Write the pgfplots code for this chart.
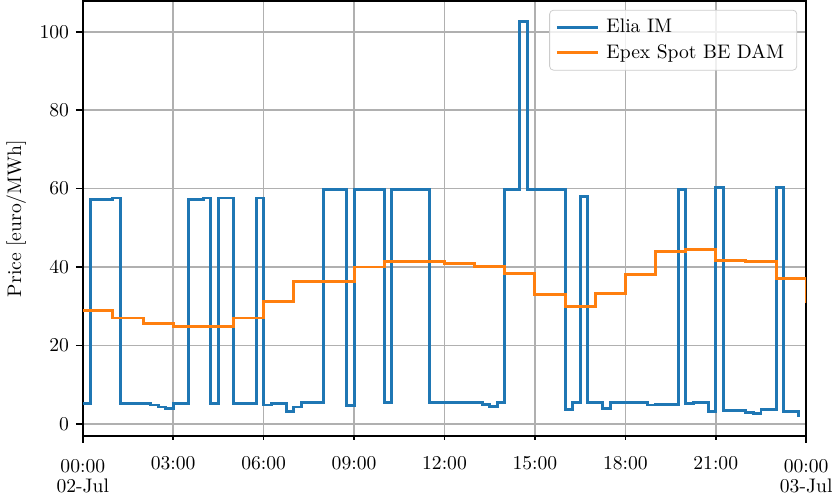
\documentclass[border=0pt]{standalone}
\usepackage{pgfplots}
\pgfplotsset{compat=1.18}

\definecolor{tabblue}{HTML}{1F77B4}
\definecolor{taborange}{HTML}{FF7F0E}
\definecolor{gridgray}{HTML}{B0B0B0}
\definecolor{legendedge}{HTML}{CCCCCC}

\begin{document}
\begin{tikzpicture}
\begin{axis}[
  set layers,
  scale only axis,
  width=369pt, height=222pt,
  xmin=0, xmax=24,
  ymin=-3.1, ymax=107.9,
  xtick={0,24},
  xticklabels={{00:00\\02-Jul},{00:00\\03-Jul}},
  x tick label style={align=center, font=\fontsize{10}{10.3}\selectfont,
    yshift=-5pt},
  extra x ticks={3,6,9,12,15,18,21},
  extra x tick labels={03:00,06:00,09:00,12:00,15:00,18:00,21:00},
  extra x tick style={major tick length=2pt, grid=major,
    x tick label style={yshift=0pt}},
  ytick={0,20,40,60,80,100},
  grid=major,
  grid style={color=gridgray, line width=0.8pt},
  tick align=outside,
  tick pos=left,
  major tick length=3.5pt,
  tick style={black, line width=0.8pt},
  axis line style={line width=0.8pt},
  ylabel={Price [euro/MWh]},
  legend cell align=left,
  legend style={
    at={(1,1)}, anchor=north east, xshift=-4.6pt, yshift=-4.6pt,
    draw=legendedge, rounded corners=2pt,
    fill=white, fill opacity=0.8, text opacity=1,
    inner xsep=3pt, inner ysep=2.5pt, row sep=0.5pt,
    nodes={inner xsep=3.5pt},
  },
  legend image code/.code={
    \draw[#1] (0pt,0pt) -- (21pt,0pt);
  },
]

% Elia imbalance price, quarter-hourly
\addplot[const plot, color=tabblue, line width=1.5pt] coordinates {
  (0,5.2) (0.25,57.2) (1.0,57.6) (1.25,5.2) (2.25,4.8) (2.5,4.3)
  (2.75,3.9) (3.0,5.1) (3.5,57.2) (4.0,57.6) (4.25,5.2) (4.5,57.6)
  (5.0,5.2) (5.75,57.6) (6.0,4.8) (6.25,5.3) (6.75,3.2) (7.0,4.3)
  (7.25,5.5) (8.0,59.8) (8.75,4.6) (9.0,59.8) (10.0,5.5) (10.25,59.8)
  (11.5,5.5) (13.25,4.9) (13.5,4.5) (13.75,5.5) (14.0,59.8) (14.5,102.7)
  (14.75,59.8) (16.0,3.7) (16.25,5.5) (16.5,58.1) (16.75,5.5) (17.25,3.9)
  (17.5,5.5) (18.75,4.8) (19.0,4.9) (19.75,59.8) (20.0,5.1) (20.25,5.5)
  (20.75,3.2) (21.0,60.2) (21.25,3.4) (22.0,3.0) (22.25,2.6) (22.5,3.6)
  (23.0,60.2) (23.25,3.1) (23.75,1.7)
};
\addlegendentry{Elia IM}

% Day-ahead price, hourly
\addplot[const plot, color=taborange, line width=1.5pt] coordinates {
  (0,29.0) (1,27.0) (2,25.6) (3,24.8) (4,24.9) (5,27.0) (6,31.1)
  (7,36.2) (8,36.2) (9,40.0) (10,41.5) (11,41.5) (12,41.0) (13,40.2)
  (14,38.3) (15,33.0) (16,30.0) (17,33.2) (18,38.1) (19,44.0) (20,44.5)
  (21,41.7) (22,41.5) (23,37.0) (24,30.8)
};
\addlegendentry{Epex Spot BE DAM}

\end{axis}
\end{tikzpicture}
\end{document}
